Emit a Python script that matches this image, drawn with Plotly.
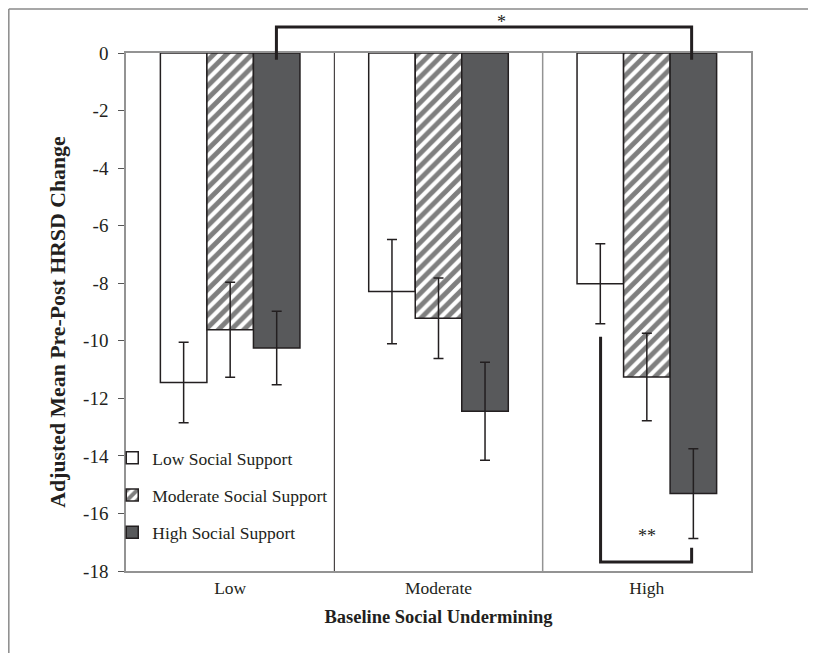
import plotly.graph_objects as go

categories = ["Low", "Moderate", "High"]
series_names = ["Low Social Support", "Moderate Social Support", "High Social Support"]
low_ss = [-11.45, -8.29, -8.02]
low_ss_err = [1.40, 1.81, 1.39]
mod_ss = [-9.62, -9.22, -11.26]
mod_ss_err = [1.65, 1.40, 1.52]
high_ss = [-10.25, -12.45, -15.31]
high_ss_err = [1.28, 1.70, 1.56]
y_ticks = [0, -2, -4, -6, -8, -10, -12, -14, -16, -18]
y_ticktext = ["0", "-2", "-4", "-6", "-8", "-10", "-12", "-14", "-16", "-18"]
x_title = "Baseline Social Undermining"
y_title = "Adjusted Mean Pre-Post HRSD Change"

FONT = "Liberation Serif"
DARK = "#231f20"
GRAY = "#939393"
xpos = list(range(len(categories)))

fig = go.Figure()
styles = [
    dict(color="white", pattern=None),
    dict(color="white", pattern=dict(shape="/", fgcolor="black", bgcolor="white", size=9, solidity=0.55)),
    dict(color="#58595b", pattern=None),
]
for i, (name, vals, errs) in enumerate(zip(series_names,
                                            [low_ss, mod_ss, high_ss],
                                            [low_ss_err, mod_ss_err, high_ss_err])):
    marker = dict(color=styles[i]["color"], line=dict(color=DARK, width=1.5))
    if styles[i]["pattern"]:
        marker["pattern"] = styles[i]["pattern"]
    fig.add_trace(go.Bar(
        x=xpos, y=vals, name=name, marker=marker,
        legendgroup=f"g{i}",
        error_y=dict(type="data", array=errs, visible=True, color=DARK, thickness=1.5, width=5),
    ))

shapes = []
# category separators
shapes.append(dict(type="line", xref="x", yref="paper", x0=0.5, x1=0.5, y0=0, y1=1,
                   line=dict(color=DARK, width=1)))
shapes.append(dict(type="line", xref="x", yref="paper", x0=1.5, x1=1.5, y0=0, y1=1,
                   line=dict(color=GRAY, width=1.5)))
# top significance bracket
br = dict(color=DARK, width=3)
shapes.append(dict(type="path", xref="x", yref="paper",
                   path="M 0.222,0.987 L 0.222,1.050 L 2.215,1.050 L 2.215,0.987",
                   line=br))
# bottom significance bracket (data y)
shapes.append(dict(type="path", xref="x", yref="y",
                   path="M 1.778,-9.86 L 1.778,-17.69 L 2.215,-17.69 L 2.215,-17.19",
                   line=br))
# outer figure frame (top and left visible)
shapes.append(dict(type="line", xref="paper", yref="paper", x0=-0.1875, x1=1.2, y0=1.085, y1=1.085,
                   line=dict(color="#8a8a8a", width=1.5)))
shapes.append(dict(type="line", xref="paper", yref="paper", x0=-0.1875, x1=-0.1875, y0=-0.2, y1=1.085,
                   line=dict(color="#8a8a8a", width=1.5)))

annotations = [
    dict(text="*", x=1.3, y=1.083, xref="x", yref="paper", yanchor="top", showarrow=False,
         font=dict(family=FONT, size=18, color=DARK)),
    dict(text="**", x=2.0, y=-16.8, xref="x", yref="y", showarrow=False,
         font=dict(family=FONT, size=18, color=DARK)),
    dict(text=f"<b>{y_title}</b>", x=-0.109, y=0.481, xref="paper", yref="paper",
         textangle=-90, showarrow=False, xanchor="center", yanchor="middle",
         font=dict(family=FONT, size=21.8, color=DARK)),
]

fig.update_layout(
    width=816, height=653,
    margin=dict(l=118, r=73, t=45, b=90),
    paper_bgcolor="white", plot_bgcolor="white",
    barmode="group", bargap=0.33, bargroupgap=0,
    font=dict(family=FONT, size=17, color="#231f20"),
    shapes=shapes, annotations=annotations,
    showlegend=True,
    legend=dict(x=-0.022, y=0.253, xanchor="left", yanchor="top",
                bgcolor="rgba(0,0,0,0)", font=dict(family=FONT, size=17.5),
                traceorder="grouped", tracegroupgap=11.5, itemwidth=30),
    xaxis=dict(range=[-0.5, 2.5], tickvals=xpos, ticktext=categories,
               showline=True, linecolor=GRAY, linewidth=1.5, mirror=True,
               showgrid=False, zeroline=False, ticks="",
               tickfont=dict(family=FONT, size=17.5),
               title=dict(text=f"<b>{x_title}</b>",
                          font=dict(family=FONT, size=18.5), standoff=13)),
    yaxis=dict(range=[-18, 0], tickvals=y_ticks, ticktext=y_ticktext,
               showline=True, linecolor=GRAY, linewidth=1.5, mirror=True,
               showgrid=False, zeroline=False, ticks="outside", ticklen=6,
               tickcolor="#555", tickwidth=1, ticklabelstandoff=6,
               tickfont=dict(family=FONT, size=19)),
)

fig.write_html("out.html")
